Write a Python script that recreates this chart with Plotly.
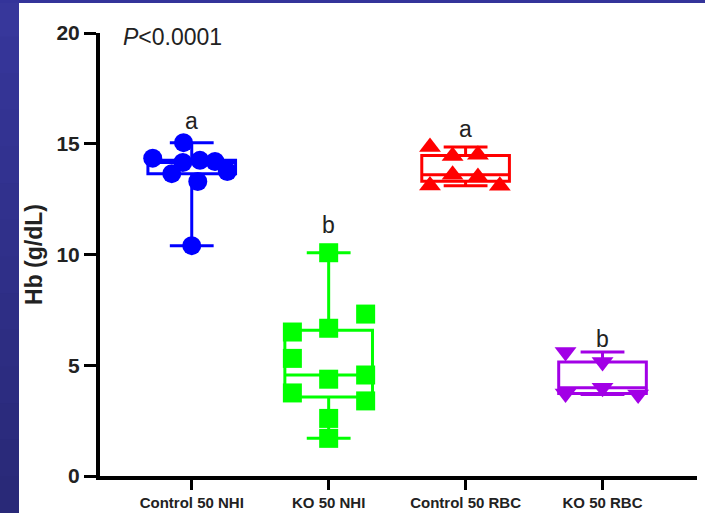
import numpy as np
import plotly.graph_objects as go

# ---------------- data ----------------
categories = ["Control 50 NHI", "KO 50 NHI", "Control 50 RBC", "KO 50 RBC"]

blue_vals = [15.05, 14.35, 14.25, 14.2, 14.15, 13.75, 13.65, 13.3, 10.4]
blue_jit = [-0.06, -0.285, 0.06, 0.17, -0.065, 0.26, -0.146, 0.044, 0.0]

green_vals = [10.08, 7.31, 6.5, 6.67, 5.31, 4.56, 4.37, 3.75, 3.39, 2.6, 1.7]
green_jit = [0.0, 0.27, -0.265, 0.0, -0.265, 0.27, 0.0, -0.265, 0.27, 0.0, 0.0]

red_vals = [14.85, 14.5, 14.45, 13.6, 13.5, 13.12, 13.1]
red_jit = [-0.26, 0.09, -0.095, -0.095, 0.09, -0.26, 0.25]

purple_vals = [5.6, 5.15, 3.98, 3.72, 3.68]
purple_jit = [-0.27, 0.0, 0.0, -0.27, 0.26]

letters = ["a", "b", "a", "b"]
y_ticks = [0, 5, 10, 15, 20]

groups = [
    (blue_vals, blue_jit, "#0000ff", "circle", 19),
    (green_vals, green_jit, "#00ff00", "square", 19),
    (red_vals, red_jit, "#ff0000", "triangle-up", 19),
    (purple_vals, purple_jit, "#a200e6", "triangle-down", 19),
]

# ---------------- layout geometry ----------------
W, H = 705, 513
L, R, T, B = 100, 8, 33, 37
PW, PH = W - L - R, H - T - B
FONT = "Liberation Sans, Arial, sans-serif"


def px2x(px):
    return (px - L) / PW


def px2y(py):
    return (H - B - py) / PH


fig = go.Figure()

for i, (vals, jit, col, sym, msz) in enumerate(groups):
    v = np.array(vals, dtype=float)
    q1, med, q3 = np.percentile(v, [25, 50, 75])
    fig.add_trace(go.Box(
        x=[i], q1=[q1], median=[med], q3=[q3],
        lowerfence=[v.min()], upperfence=[v.max()],
        width=0.64, whiskerwidth=0.5,
        line=dict(color=col, width=3),
        fillcolor="rgba(0,0,0,0)",
        boxpoints=False, showlegend=False, hoverinfo="skip",
    ))
    fig.add_trace(go.Scatter(
        x=[i + j for j in jit], y=vals, mode="markers",
        marker=dict(color=col, symbol=sym, size=msz, line=dict(width=0)),
        showlegend=False, hoverinfo="skip",
    ))

letter_y = [16.04, 11.33, 15.66, 6.2]
annotations = []
for i, (lt, ly) in enumerate(zip(letters, letter_y)):
    annotations.append(dict(
        x=i, y=ly, xref="x", yref="y", text=lt, showarrow=False,
        xanchor="center", yanchor="middle",
        font=dict(family=FONT, size=23, color="#222222"),
    ))
annotations.append(dict(
    x=-0.52, y=19.8, xref="x", yref="y", text="<i>P</i>&lt;0.0001",
    showarrow=False, xanchor="left", yanchor="middle",
    font=dict(family=FONT, size=23, color="#222222"),
))

# background bands (dark blue frame at left and top)
shapes = [dict(type="rect", xref="paper", yref="paper",
               x0=px2x(0), x1=px2x(W), y0=px2y(H), y1=px2y(0),
               fillcolor="white", line=dict(width=0), layer="below")]
nsl = 14
top_c = np.array([0x37, 0x37, 0x9b])
bot_c = np.array([0x29, 0x29, 0x78])
for k in range(nsl):
    c = top_c + (bot_c - top_c) * (k / (nsl - 1))
    col = "rgb(%d,%d,%d)" % tuple(c.astype(int))
    shapes.append(dict(type="rect", xref="paper", yref="paper",
                       x0=px2x(0), x1=px2x(19),
                       y0=px2y(H * (k + 1) / nsl + 1), y1=px2y(H * k / nsl),
                       fillcolor=col, line=dict(width=0), layer="below"))
shapes.append(dict(type="rect", xref="paper", yref="paper",
                   x0=px2x(0), x1=px2x(W), y0=px2y(3), y1=px2y(0),
                   fillcolor="#34349a", line=dict(width=0), layer="below"))

fig.update_layout(
    width=W, height=H,
    margin=dict(l=L, r=R, t=T, b=B, pad=0, autoexpand=False),
    paper_bgcolor="white", plot_bgcolor="rgba(0,0,0,0)",
    font=dict(family=FONT, color="#222222"),
    showlegend=False,
    annotations=annotations,
    shapes=shapes,
    xaxis=dict(
        range=[-0.67, 3.69], tickvals=list(range(len(categories))),
        ticktext=categories, showgrid=False, zeroline=False,
        showline=True, linecolor="black", linewidth=4,
        ticks="outside", ticklen=10, tickwidth=3, tickcolor="black",
        tickfont=dict(family=FONT, size=15, color="#222222", weight="bold"),
        fixedrange=True, automargin=False,
    ),
    yaxis=dict(
        range=[0, 20], tickvals=y_ticks, showgrid=False, zeroline=False,
        showline=True, linecolor="black", linewidth=4,
        ticks="outside", ticklen=12, tickwidth=3, tickcolor="black",
        tickfont=dict(family=FONT, size=21, color="#222222", weight="bold"),
        title=dict(text="Hb (g/dL)", standoff=8,
                   font=dict(family=FONT, size=23, color="#222222", weight="bold")),
        fixedrange=True, automargin=False,
    ),
)

fig.write_html("out.html")
